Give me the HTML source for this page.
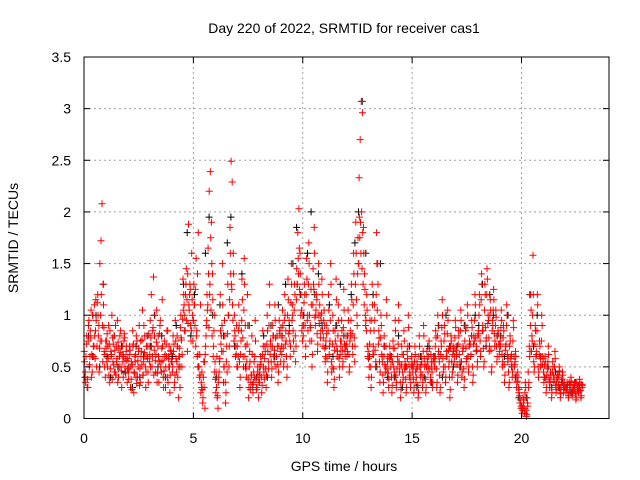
<!DOCTYPE html>
<html><head><meta charset="utf-8"><style>
html,body{margin:0;padding:0;background:#fff;}
svg{display:block;font-family:"Liberation Sans",sans-serif;}
</style></head><body>
<svg id="chart" width="640" height="480" viewBox="0 0 640 480" xmlns="http://www.w3.org/2000/svg">
<text x="344" y="33" font-size="14" text-anchor="middle" fill="#000">Day 220 of 2022, SRMTID for receiver cas1</text>
<text x="344" y="471" font-size="14" text-anchor="middle" fill="#000">GPS time / hours</text>
<text x="18" y="238" font-size="14" text-anchor="middle" fill="#000" transform="rotate(-90 18 238)">SRMTID / TECUs</text>
<g id="grid"></g>
<g id="black-series"></g>
<g id="red-series"></g>
<rect x="84" y="57" width="525" height="361.5" fill="none" stroke="#000" stroke-width="1"/>
<g id="ticks"></g>
</svg>
<script>
const xTicks = [0, 5, 10, 15, 20];
const xTickLabels = ["0", "5", "10", "15", "20"];
const yTicks = [0, 0.5, 1, 1.5, 2, 2.5, 3, 3.5];
const yTickLabels = ["0", "0.5", "1", "1.5", "2", "2.5", "3", "3.5"];
// red series, satellite group A: values per hour
const redHours = [
[0.55,0.35,0.8,0.3,0.95,0.6,1.05,0.45,0.7,1.1,0.85,0.5,1.2,0.9,1.5,1.72,2.08,1.3,0.65,0.4],
[0.75,0.5,0.9,0.35,0.65,1.0,0.55,0.8,0.45,0.7,0.95,0.4,0.6,0.85,0.3,0.55,0.75,0.5,0.65,0.35],
[0.45,0.7,0.3,0.55,0.85,0.25,0.6,0.4,0.75,0.5,0.9,0.35,0.65,1.05,0.55,0.8,0.3,0.6,0.45,0.7],
[0.95,1.2,0.6,1.37,0.8,0.45,1.05,0.7,0.35,0.9,0.55,1.15,0.4,0.75,0.3,0.6,0.85,0.5,0.25,0.65],
[0.55,0.8,0.3,0.95,0.45,0.7,0.2,0.6,1.0,0.5,1.35,1.1,0.85,1.45,0.65,1.88,1.2,0.9,1.6,0.75],
[1.3,0.9,1.55,0.6,1.8,0.4,1.1,0.3,0.15,0.55,0.1,0.8,1.2,1.65,2.2,2.39,1.9,1.4,0.7,1.0],
[0.25,0.6,0.1,0.45,1.2,0.8,1.5,0.35,0.95,0.15,0.7,1.3,0.5,1.85,2.49,2.29,1.6,1.0,0.6,0.9],
[0.5,1.1,0.3,0.75,1.35,0.6,1.55,0.9,0.4,1.2,0.2,0.65,0.35,0.8,0.25,0.55,0.95,0.3,0.45,0.2],
[0.35,0.6,0.25,0.85,0.45,0.7,0.3,1.0,0.55,1.3,0.75,0.4,0.9,0.6,1.1,0.5,0.8,0.35,0.95,0.65],
[0.7,1.05,0.5,1.2,0.85,0.4,1.35,0.95,0.6,1.5,1.1,0.75,1.3,0.55,1.45,1.8,2.03,1.6,1.2,0.9],
[0.8,1.3,0.6,1.55,1.0,1.7,0.75,1.25,0.5,1.45,1.85,0.9,1.2,0.65,1.5,1.1,0.85,1.35,0.7,1.05],
[0.55,0.9,0.35,1.2,0.7,1.5,0.45,1.0,0.3,0.85,1.35,0.6,1.1,0.4,0.75,0.95,0.5,1.25,0.65,0.8],
[0.6,1.05,0.45,0.85,1.3,0.7,1.6,0.55,1.9,1.0,1.75,2.33,2.7,3.07,2.96,1.85,1.4,0.9,1.2,0.6],
[0.4,0.95,0.3,1.3,0.7,1.1,0.5,1.8,1.5,0.85,0.35,1.0,0.6,0.25,0.8,0.45,1.15,0.55,0.3,0.7],
[0.5,0.25,0.75,0.4,0.95,0.3,0.6,1.1,0.45,0.2,0.7,0.35,0.85,0.55,0.25,0.65,1.0,0.4,0.3,0.6],
[0.45,0.25,0.7,0.35,0.55,0.2,0.8,0.4,0.6,0.3,0.9,0.5,0.25,0.65,0.45,0.75,0.35,0.55,0.3,0.6],
[0.5,0.85,0.3,1.0,0.6,0.25,0.75,1.15,0.45,0.9,0.35,0.65,1.05,0.5,0.2,0.8,0.4,0.7,0.55,0.95],
[0.6,0.35,0.85,0.5,1.05,0.4,0.7,0.3,0.9,0.55,1.1,0.45,0.75,0.6,0.95,0.35,0.8,1.2,0.65,0.5],
[0.85,1.2,0.6,1.4,0.9,0.5,1.3,0.75,1.45,1.0,0.65,1.15,0.45,0.95,1.25,0.7,1.05,0.55,0.85,0.6],
[0.75,1.05,0.5,0.9,0.35,0.7,1.1,0.55,0.3,0.8,0.6,0.4,0.95,0.5,0.65,0.3,0.45,0.25,0.15,0.1],
[0.05,0.2,0.1,0.35,0.02,0.15,0.3,0.6,1.2,0.8,1.58,0.45,0.9,0.65,1.2,0.4,0.75,0.5,1.0,0.6],
[0.35,0.6,0.25,0.5,0.7,0.3,0.45,0.2,0.55,0.35,0.65,0.25,0.4,0.3,0.5,0.2,0.35,0.45,0.25,0.3],
[0.25,0.35,0.2,0.3,0.4,0.22,0.28,0.35,0.18,0.3,0.25,0.38,0.2,0.3]
];
// red series, satellite group B
const redHoursB = [
[0.65,0.45,0.72,0.38,0.9,0.52,0.78,0.62,1.0,0.7,0.58,0.95,1.12,0.8,0.68,1.0,0.75,0.55,0.88,0.62],
[0.68,0.82,0.58,0.72,0.48,0.62,0.78,0.52,0.66,0.42,0.58,0.74,0.5,0.64,0.46,0.7,0.6,0.78,0.44,0.56],
[0.58,0.48,0.66,0.38,0.52,0.72,0.44,0.62,0.34,0.56,0.68,0.48,0.6,0.76,0.42,0.64,0.5,0.7,0.58,0.82],
[0.62,0.78,0.5,0.88,0.66,0.56,0.74,0.44,0.6,0.82,0.5,0.68,0.56,0.46,0.62,0.72,0.4,0.58,0.5,0.66],
[0.62,0.5,0.72,0.42,0.58,0.8,0.5,0.68,0.88,0.76,0.96,1.2,1.0,1.3,1.15,0.92,1.05,1.25,0.85,1.0],
[0.95,1.1,0.7,0.85,0.62,0.5,0.42,0.35,0.28,0.4,0.55,0.7,0.95,1.1,0.88,1.3,1.05,0.8,0.6,0.45],
[0.38,0.3,0.22,0.4,0.58,0.72,0.9,0.65,0.5,0.35,0.55,0.82,1.0,1.15,1.4,1.25,0.95,0.75,0.8,0.62],
[0.7,0.85,0.55,0.62,0.95,0.78,1.05,0.6,0.48,0.72,0.38,0.5,0.28,0.42,0.33,0.45,0.6,0.38,0.3,0.4],
[0.45,0.52,0.4,0.62,0.5,0.58,0.48,0.72,0.65,0.9,0.62,0.55,0.7,0.8,0.66,0.78,0.6,0.52,0.7,0.82],
[0.88,0.78,0.68,0.95,0.72,0.6,1.0,0.82,0.75,1.12,0.95,0.85,1.05,0.8,1.15,1.3,1.4,1.25,1.0,0.85],
[1.0,1.12,0.9,1.2,0.95,1.3,1.0,0.88,0.75,1.1,1.25,0.98,1.05,0.82,1.0,0.92,0.78,1.02,0.85,0.95],
[0.68,0.75,0.58,0.85,0.62,0.95,0.55,0.72,0.48,0.66,0.9,0.7,0.8,0.58,0.62,0.75,0.66,0.88,0.72,0.7],
[0.7,0.8,0.62,0.75,0.95,0.82,1.1,0.78,1.3,1.15,1.4,1.5,1.75,1.6,1.45,1.3,1.1,1.0,0.85,0.7],
[0.58,0.72,0.5,0.95,0.62,0.85,0.66,1.2,1.05,0.72,0.55,0.78,0.62,0.42,0.6,0.52,0.7,0.48,0.44,0.58],
[0.6,0.4,0.55,0.5,0.68,0.42,0.48,0.72,0.55,0.35,0.52,0.45,0.62,0.48,0.38,0.5,0.7,0.52,0.42,0.5],
[0.52,0.38,0.55,0.45,0.48,0.32,0.6,0.5,0.52,0.42,0.65,0.58,0.38,0.5,0.55,0.6,0.48,0.62,0.45,0.55],
[0.6,0.7,0.48,0.8,0.65,0.42,0.62,0.88,0.58,0.75,0.5,0.6,0.82,0.66,0.4,0.7,0.55,0.62,0.68,0.78],
[0.66,0.52,0.72,0.62,0.85,0.55,0.65,0.48,0.75,0.68,0.88,0.6,0.7,0.72,0.8,0.5,0.72,0.95,0.78,0.66],
[0.8,1.0,0.75,1.15,0.85,0.68,1.05,0.88,1.2,0.92,0.78,1.0,0.66,0.85,1.05,0.82,0.9,0.7,0.8,0.72],
[0.72,0.88,0.62,0.78,0.52,0.66,0.9,0.62,0.45,0.7,0.58,0.52,0.75,0.6,0.55,0.42,0.36,0.3,0.22,0.15],
[0.12,0.1,0.18,0.25,0.08,0.2,0.45,0.7,0.9,0.65,1.0,0.55,0.72,0.6,0.85,0.5,0.62,0.58,0.75,0.52],
[0.45,0.52,0.38,0.42,0.55,0.4,0.36,0.3,0.45,0.42,0.5,0.32,0.36,0.4,0.42,0.28,0.3,0.38,0.32,0.35],
[0.3,0.28,0.25,0.35,0.32,0.26,0.3,0.28,0.24,0.34,0.3,0.32,0.27,0.33]
];
// red series, satellite group C
const redHoursC = [
[0.4,0.6,0.3,0.75,0.5,0.85,0.4,1.0,0.6,0.8,1.15,0.7,1.0,0.45,0.75,1.2,0.9,1.1,0.5,0.75],
[0.55,0.7,0.42,0.85,0.6,0.38,0.72,0.45,0.9,0.55,0.35,0.68,0.8,0.5,0.62,0.4,0.82,0.58,0.7,0.48],
[0.38,0.62,0.5,0.28,0.7,0.45,0.55,0.8,0.4,0.65,0.32,0.75,0.52,0.42,0.9,0.6,0.45,0.7,0.35,0.55],
[0.5,0.7,0.85,0.42,1.0,0.62,0.35,0.8,0.55,0.95,0.45,0.7,0.3,0.6,0.5,0.85,0.35,0.7,0.42,0.55],
[0.45,0.65,0.35,0.75,0.55,0.4,0.6,0.3,0.78,0.62,1.05,0.85,1.2,0.95,1.4,1.1,1.3,0.75,1.15,0.95],
[1.1,1.25,0.8,1.4,0.5,0.62,0.25,0.45,0.2,0.3,0.62,0.9,1.05,1.4,1.2,1.75,1.5,1.15,0.85,0.55],
[0.45,0.2,0.35,0.55,0.85,0.65,1.1,0.5,0.8,0.25,0.45,1.0,0.7,1.6,1.3,1.1,1.4,0.85,0.7,0.5],
[0.6,0.9,0.4,0.85,1.15,0.5,1.3,0.7,0.55,0.9,0.3,0.55,0.42,0.62,0.35,0.4,0.75,0.28,0.5,0.35],
[0.42,0.55,0.32,0.7,0.38,0.65,0.42,0.85,0.48,1.1,0.7,0.48,0.8,0.55,0.95,0.6,0.7,0.45,0.85,0.55],
[0.62,0.9,0.55,1.0,0.75,0.5,1.15,0.85,0.7,1.3,1.0,0.65,1.2,0.7,1.3,1.55,1.65,1.4,1.05,0.75],
[0.9,1.2,0.7,1.35,0.85,1.5,0.9,1.1,0.62,1.3,1.6,1.0,1.15,0.72,1.3,1.0,0.95,1.2,0.78,0.9],
[0.6,0.82,0.45,1.05,0.75,1.3,0.5,0.85,0.38,0.75,1.15,0.65,0.95,0.5,0.7,0.85,0.55,1.05,0.6,0.72],
[0.65,0.95,0.5,0.8,1.15,0.62,1.4,0.7,1.6,0.9,1.5,1.95,1.9,2.0,1.8,1.6,1.25,0.95,1.05,0.65],
[0.5,0.85,0.4,1.1,0.62,0.95,0.55,1.5,1.3,0.78,0.45,0.9,0.55,0.35,0.7,0.5,1.0,0.6,0.38,0.62],
[0.55,0.32,0.68,0.45,0.85,0.35,0.55,0.95,0.5,0.28,0.62,0.4,0.75,0.5,0.3,0.58,0.88,0.45,0.35,0.55],
[0.5,0.3,0.62,0.4,0.5,0.25,0.7,0.45,0.55,0.35,0.8,0.52,0.3,0.6,0.5,0.68,0.4,0.5,0.35,0.58],
[0.55,0.78,0.35,0.9,0.55,0.3,0.7,1.0,0.5,0.82,0.4,0.6,0.95,0.55,0.28,0.75,0.45,0.65,0.6,0.88],
[0.62,0.42,0.8,0.55,0.95,0.45,0.68,0.38,0.85,0.58,1.0,0.5,0.72,0.62,0.88,0.42,0.75,1.1,0.7,0.55],
[0.82,1.1,0.65,1.3,0.85,0.55,1.2,0.78,1.35,0.95,0.7,1.05,0.5,0.9,1.15,0.75,0.98,0.6,0.82,0.65],
[0.7,0.95,0.55,0.85,0.42,0.72,1.0,0.58,0.35,0.75,0.62,0.45,0.88,0.52,0.6,0.35,0.4,0.28,0.18,0.12],
[0.08,0.15,0.05,0.3,0.04,0.12,0.35,0.65,1.05,0.75,1.2,0.5,0.85,0.62,1.1,0.45,0.7,0.52,0.9,0.58],
[0.4,0.55,0.3,0.48,0.62,0.35,0.42,0.25,0.5,0.38,0.58,0.28,0.42,0.33,0.46,0.24,0.38,0.42,0.28,0.32],
[0.28,0.32,0.22,0.33,0.36,0.24,0.3,0.32,0.2,0.28,0.26,0.35,0.22,0.32]
];
// black series (mostly hidden behind red)
const blackHours = [
[0.4,0.8,0.6,1.0,0.5,1.3],
[0.6,0.4,0.8,0.5,0.7,0.45],
[0.5,0.3,0.7,0.4,0.6,0.8],
[0.7,1.0,0.5,0.8,0.4,0.6],
[0.6,0.9,0.5,1.3,1.8,0.8],
[1.2,0.5,0.3,1.6,1.95,1.0],
[0.4,1.1,0.8,1.7,1.95,0.7],
[0.6,1.4,0.5,0.9,0.3,0.4],
[0.5,0.8,0.4,0.9,0.6,1.1],
[0.8,1.3,0.9,1.5,1.85,1.2],
[1.0,1.6,2.0,1.2,1.4,0.9],
[0.7,1.1,0.6,0.9,1.3,0.8],
[0.8,1.2,1.7,2.0,3.07,1.6],
[0.6,1.2,0.5,1.5,0.7,0.4],
[0.6,0.4,0.8,0.3,0.5,0.7],
[0.5,0.3,0.6,0.4,0.7,0.35],
[0.6,0.9,0.4,1.0,0.7,0.5],
[0.7,0.5,0.9,0.6,0.8,1.0],
[0.9,1.3,0.7,1.2,1.0,0.8],
[0.8,0.6,1.0,0.5,0.4,0.2],
[0.1,0.2,1.2,0.7,1.0,0.6],
[0.4,0.5,0.3,0.45,0.3,0.35],
[0.3,0.25,0.35,0.3]
];

const NS = "http://www.w3.org/2000/svg";
const L = 84, R = 609, T = 57, B = 418.5;
const xMax = 24, yMax = 3.5;
function xs(v){ return L + v / xMax * (R - L); }
function ys(v){ return B - v / yMax * (B - T); }

const grid = document.getElementById('grid');
const ticks = document.getElementById('ticks');
function mk(tag, attrs, parent){
  const e = document.createElementNS(NS, tag);
  for (const k in attrs) e.setAttribute(k, attrs[k]);
  parent.appendChild(e);
  return e;
}
xTicks.forEach((v, i) => {
  const x = xs(v);
  if (v > 0) {
    const g = mk('line', {x1:x, y1:T, x2:x, y2:B, stroke:'#a0a0a0', 'stroke-dasharray':'2,3', 'stroke-width':1}, grid);
    
    
  }
  const t1 = mk('line', {x1:x, y1:B, x2:x, y2:B-6, stroke:'#000'}, ticks);
  
  
  const t2 = mk('line', {x1:x, y1:T, x2:x, y2:T+6, stroke:'#000'}, ticks);
  
  
  const lb = mk('text', {x:x, y:443, 'font-size':14, 'text-anchor':'middle', fill:'#000'}, ticks);
  lb.textContent = xTickLabels[i];
  
  
});
yTicks.forEach((v, i) => {
  const y = ys(v);
  if (v > 0 && v < yMax) {
    const g = mk('line', {x1:L, y1:y, x2:R, y2:y, stroke:'#a0a0a0', 'stroke-dasharray':'2,3', 'stroke-width':1}, grid);
    
    
  }
  const t1 = mk('line', {x1:L, y1:y, x2:L+6, y2:y, stroke:'#000'}, ticks);
  
  
  const t2 = mk('line', {x1:R, y1:y, x2:R-6, y2:y, stroke:'#000'}, ticks);
  
  
  const lb = mk('text', {x:71, y:y+5, 'font-size':14, 'text-anchor':'end', fill:'#000'}, ticks);
  lb.textContent = yTickLabels[i];
  
  
});

function drawSeries(hours, parentId, color, name, offset){
  const parent = document.getElementById(parentId);
  let d = '';
  hours.forEach((vals, h) => {
    const n = vals.length;
    const span = (h === hours.length - 1) ? 0.8 : 1;
    vals.forEach((v, j) => {
      const t = h + (j + offset) / n * span;
      const x = xs(t), y = ys(v);
      d += `M${(x-3.5).toFixed(1)} ${y.toFixed(1)}h7M${x.toFixed(1)} ${(y-3.5).toFixed(1)}v7`;
    });
  });
  const p = mk('path', {d:d, stroke:color, 'stroke-width':1, fill:'none'}, parent);
  
  
}
drawSeries(blackHours, 'black-series', '#000', 'black-points', 0.3);
drawSeries(redHours, 'red-series', '#ff0000', 'red-points', 0.5);
drawSeries(redHoursB, 'red-series', '#ff0000', 'red-points-b', 0.15);
drawSeries(redHoursC, 'red-series', '#ff0000', 'red-points-c', 0.8);
</script>
</body></html>
